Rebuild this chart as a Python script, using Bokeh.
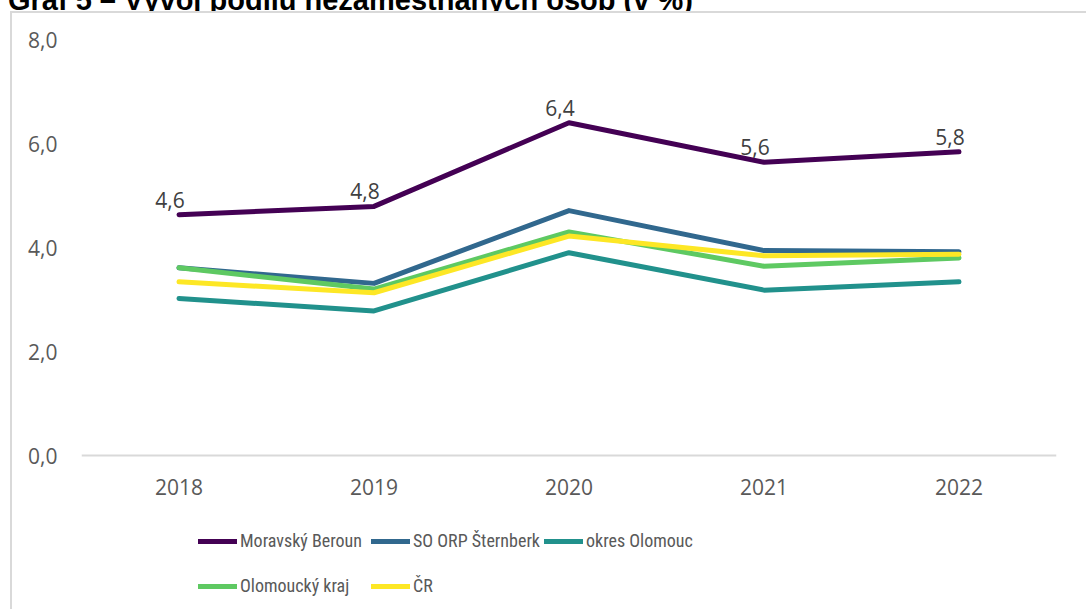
from bokeh.plotting import figure
from bokeh.models import (ColumnDataSource, FactorRange, Range1d, FixedTicker,
                          Legend, LegendItem, Div)
from bokeh.layouts import column
from bokeh.core.properties import value
from bokeh.embed import file_html
from bokeh.resources import INLINE

# ---------------- data ----------------
years = ["2018", "2019", "2020", "2021", "2022"]
moravsky_beroun = [4.63, 4.79, 6.40, 5.64, 5.84]
so_orp_sternberk = [3.61, 3.31, 4.71, 3.94, 3.92]
okres_olomouc = [3.02, 2.78, 3.90, 3.18, 3.34]
olomoucky_kraj = [3.61, 3.20, 4.30, 3.64, 3.80]
cr = [3.34, 3.13, 4.22, 3.84, 3.87]
series_names = ["Moravský Beroun", "SO ORP Šternberk", "okres Olomouc",
                "Olomoucký kraj", "ČR"]
series_colors = ["#440154", "#31688E", "#21918C", "#5EC962", "#FDE725"]
y_ticks = [0, 2, 4, 6, 8]
y_tick_labels = ["0,0", "2,0", "4,0", "6,0", "8,0"]
title_text = "Graf 5 – Vývoj podílu nezaměstnaných osob (v %)"

all_series = [moravsky_beroun, so_orp_sternberk, okres_olomouc, olomoucky_kraj, cr]

# ---------------- layout constants (canvas pixels) ----------------
W, H = 1076, 598
ML, MR, MT = 69, 32, 26
AXIS_BOTTOM = 442            # canvas y of value 0
Y_MAX = 8
px_per_unit = (AXIS_BOTTOM - MT) / Y_MAX
y_start = -(H - AXIS_BOTTOM) / px_per_unit   # extra room below 0 for labels/legend

AXIS_FONT = "Open Sans"
LEG_FONT = "Liberation Sans Narrow, Roboto Condensed, Roboto"

title_div = Div(
    text=('<div style="position:relative; top:-14px; left:8px; '
          "font-family:'Liberation Sans', Arial, sans-serif; font-weight:bold; "
          'font-size:29px; line-height:29px; white-space:nowrap; color:#000;">'
          + title_text + '</div>'),
    width=1088, height=11, margin=0,
    styles={"overflow": "hidden"})

p = figure(width=W, height=H, output_backend="svg", toolbar_location=None,
           x_range=FactorRange(factors=years, range_padding=0),
           y_range=Range1d(y_start, Y_MAX),
           min_border_left=ML, min_border_right=MR, min_border_top=MT,
           min_border_bottom=0)
p.margin = (0, 0, 0, 10)
p.styles = {"border-top": "2px solid #d9d9d9", "border-left": "2px solid #d9d9d9"}
p.outline_line_color = None
p.background_fill_color = "white"
p.border_fill_color = "white"
p.xgrid.visible = False
p.ygrid.visible = False

# axes
p.xaxis.fixed_location = 0
p.xaxis.axis_line_color = "#d9d9d9"
p.xaxis.axis_line_width = 2
p.xaxis.major_tick_line_color = None
p.xaxis.minor_tick_line_color = None
p.xaxis.major_tick_out = 0
p.xaxis.major_tick_in = 0
p.xaxis.major_label_standoff = 23
p.xaxis.major_label_text_font = AXIS_FONT
p.xaxis.major_label_text_font_size = "21px"
p.xaxis.major_label_text_color = "#595959"

p.yaxis.axis_line_color = None
p.yaxis.major_tick_line_color = None
p.yaxis.minor_tick_line_color = None
p.yaxis.major_tick_out = 0
p.yaxis.major_tick_in = 0
p.yaxis.ticker = FixedTicker(ticks=y_ticks)
p.yaxis.major_label_overrides = {t: l for t, l in zip(y_ticks, y_tick_labels)}
p.yaxis.major_label_standoff = 24
p.yaxis.major_label_text_font = AXIS_FONT
p.yaxis.major_label_text_font_size = "21px"
p.yaxis.major_label_text_color = "#595959"

# lines
renderers = []
for name, vals, col in zip(series_names, all_series, series_colors):
    src = ColumnDataSource(dict(x=years, y=vals))
    r = p.line("x", "y", source=src, line_color=col, line_width=5,
               line_cap="round", line_join="round")
    renderers.append(r)

# data labels for Moravský Beroun
lab_src = ColumnDataSource(dict(
    x=years, y=moravsky_beroun,
    t=[f"{v:.1f}".replace(".", ",") for v in moravsky_beroun]))
p.text("x", "y", text="t", source=lab_src, text_font=value(AXIS_FONT),
       text_font_size="21px", text_color="#404040", text_align="center",
       text_baseline="middle", x_offset=-9, y_offset=-15)

# legends (two rows, uniform columns) inside the frame, under the axis labels
def make_legend(idx, loc):
    leg = Legend(items=[LegendItem(label=series_names[i], renderers=[renderers[i]])
                        for i in idx],
                 location=loc, orientation="horizontal",
                 border_line_color=None, background_fill_alpha=0,
                 padding=0, margin=0, spacing=0,
                 glyph_width=39, glyph_height=20, label_standoff=3,
                 label_width=131, label_height=20,
                 label_text_font=LEG_FONT, label_text_font_size="18px",
                 label_text_color="#595959")
    p.add_layout(leg, "center")

make_legend([0, 1, 2], (117, 60))
make_legend([3, 4], (117, 15))

layout = column(title_div, p, margin=0, spacing=0)

open("out.html", "w").write(file_html(layout, INLINE))
